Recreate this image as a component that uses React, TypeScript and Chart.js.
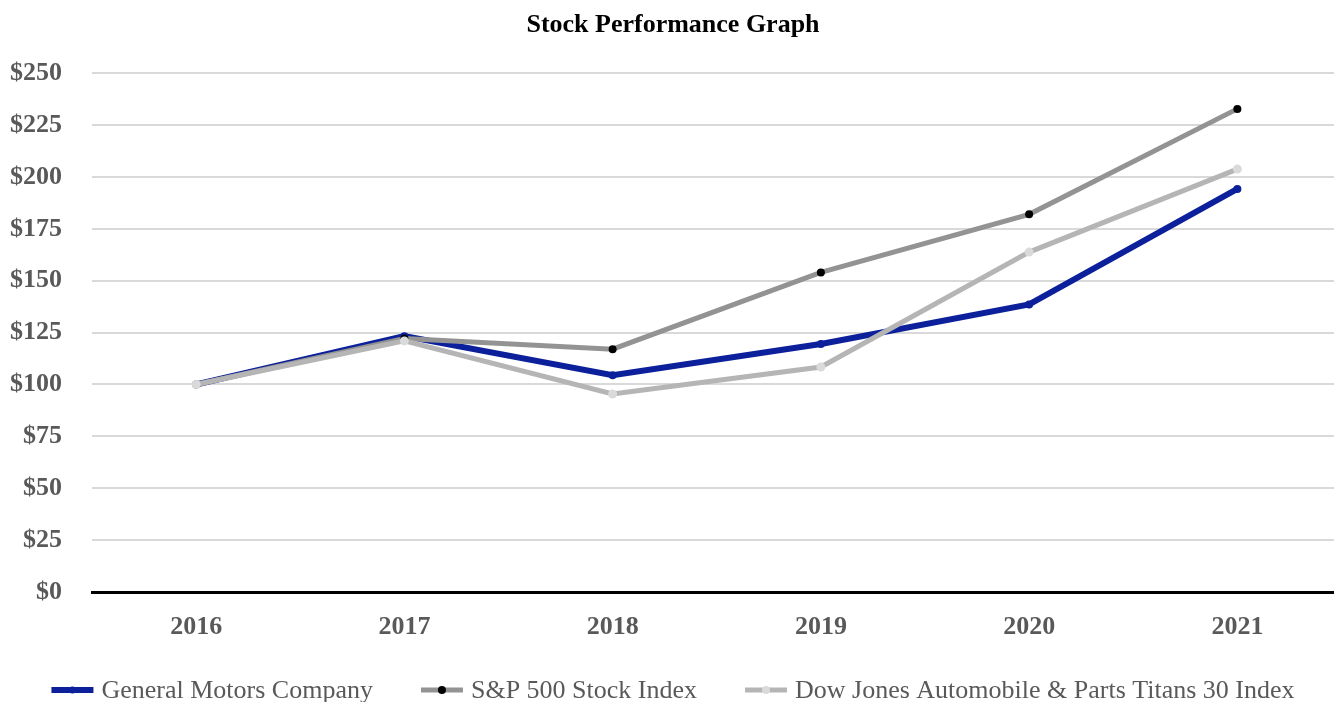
import React, { useEffect, useRef } from "react";
import { Chart, registerables } from "chart.js";

Chart.register(...registerables);

const years = ["2016", "2017", "2018", "2019", "2020", "2021"];
const gmValues = [100, 123.3, 104.5, 119.5, 138.6, 194.2];
const spValues = [100, 122.2, 117, 154, 182, 232.8];
const djValues = [100, 121, 95.4, 108.4, 163.8, 203.8];
const seriesNames = [
  "General Motors Company",
  "S&P 500 Stock Index",
  "Dow Jones Automobile & Parts Titans 30 Index",
];
const lineColors = ["#0b209a", "#939393", "#b5b5b5"];
const pointColors = ["#0b209a", "#000000", "#dadada"];

const FONT = "'Liberation Serif', 'Times New Roman', serif";

const legendPlugin = {
  id: "customLegend",
  afterDraw(chart: any) {
    const ctx = chart.ctx;
    ctx.save();
    ctx.font = `26px ${FONT}`;
    const lineLen = 42;
    const gap = 8;
    const spacing = 48;
    const widths = seriesNames.map((n) => ctx.measureText(n).width);
    const total =
      widths.reduce((a: number, w: number) => a + lineLen + gap + w, 0) +
      spacing * (seriesNames.length - 1);
    let x = chart.width / 2 - total / 2;
    const y = 690;
    seriesNames.forEach((name, i) => {
      ctx.strokeStyle = lineColors[i];
      ctx.lineWidth = i === 0 ? 6 : 5;
      ctx.beginPath();
      ctx.moveTo(x, y);
      ctx.lineTo(x + lineLen, y);
      ctx.stroke();
      ctx.fillStyle = pointColors[i];
      ctx.beginPath();
      ctx.arc(x + lineLen / 2, y, i === 0 ? 3.5 : 4, 0, Math.PI * 2);
      ctx.fill();
      ctx.fillStyle = "#595959";
      ctx.textBaseline = "middle";
      ctx.textAlign = "left";
      ctx.fillText(name, x + lineLen + gap, y + 1);
      x += lineLen + gap + widths[i] + spacing;
    });
    ctx.restore();
  },
};

export default function App() {
  const ref = useRef<HTMLCanvasElement>(null);
  useEffect(() => {
    document.body.style.overflow = "hidden";
    const chart = new Chart(ref.current!, {
      type: "line",
      data: {
        labels: years,
        datasets: [
          {
            label: seriesNames[0],
            data: gmValues,
            borderColor: lineColors[0],
            backgroundColor: pointColors[0],
            pointBackgroundColor: pointColors[0],
            pointBorderWidth: 0,
            pointRadius: 4,
            borderWidth: 6,
            order: 3,
          },
          {
            label: seriesNames[1],
            data: spValues,
            borderColor: lineColors[1],
            backgroundColor: pointColors[1],
            pointBackgroundColor: pointColors[1],
            pointBorderWidth: 0,
            pointRadius: 4,
            borderWidth: 5,
            order: 2,
          },
          {
            label: seriesNames[2],
            data: djValues,
            borderColor: lineColors[2],
            backgroundColor: pointColors[2],
            pointBackgroundColor: pointColors[2],
            pointBorderWidth: 0,
            pointRadius: 4.5,
            borderWidth: 5,
            order: 1,
          },
        ],
      },
      options: {
        responsive: false,
        animation: false,
        layout: { padding: { top: 0, bottom: 50, left: 0, right: 0 } },
        plugins: {
          legend: { display: false },
          tooltip: { enabled: false },
          title: {
            display: true,
            text: "Stock Performance Graph",
            color: "#000000",
            font: { family: FONT, size: 26, weight: "bold" },
            padding: { top: 10, bottom: 32 },
          },
        },
        scales: {
          x: {
            offset: true,
            grid: { display: false, drawTicks: false },
            border: { display: true, color: "#000000", width: 3 },
            ticks: {
              color: "#595959",
              font: { family: FONT, size: 26, weight: "bold" },
              padding: 20,
            },
            afterFit: (s: any) => {
              s.height = 60;
            },
          },
          y: {
            min: 0,
            max: 250,
            grid: {
              color: (c: any) => (c.tick && c.tick.value === 0 ? "rgba(0,0,0,0)" : "#d9d9d9"),
              lineWidth: 2,
              drawTicks: false,
            },
            border: { display: false },
            ticks: {
              stepSize: 25,
              color: "#595959",
              font: { family: FONT, size: 26, weight: "bold" },
              padding: 30,
              callback: (v: any) => "$" + v,
            },
            afterFit: (s: any) => {
              s.width = 92;
            },
          },
        },
      },
      plugins: [legendPlugin],
    });
    return () => chart.destroy();
  }, []);
  return (
    <div style={{ position: "absolute", left: 0, top: 0, width: 1346, height: 702 }}>
      <canvas ref={ref} width={1346} height={702} style={{ display: "block" }} />
    </div>
  );
}
